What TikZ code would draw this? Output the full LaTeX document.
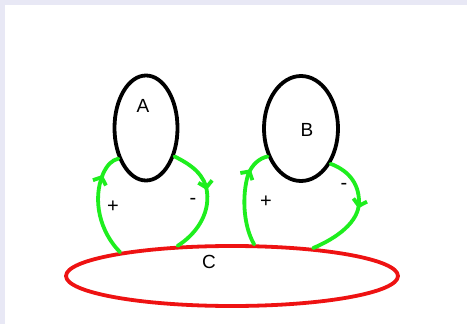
\documentclass[tikz,border=0pt]{standalone}
\usepackage{fontspec}
\setmainfont{Liberation Sans}
\usetikzlibrary{shapes.geometric,arrows.meta,decorations.markings}
\definecolor{lav}{RGB}{232,232,245}
\definecolor{loopgreen}{RGB}{30,238,30}
\definecolor{cred}{RGB}{238,18,18}
\tikzset{
  blob/.style={ellipse, draw=black, line width=3.8pt, inner sep=0pt},
  base/.style={ellipse, draw=cred, line width=3.8pt, inner sep=0pt},
  lbl/.style={font=\fontsize{19}{21}\selectfont, inner sep=0pt},
  sgn/.style={font=\fontsize{20}{22}\selectfont, inner sep=0pt},
  fb/.style={draw=loopgreen, line width=3.8pt, line cap=round, postaction={decorate}},
  tipat/.style={decoration={markings, mark=at position #1 with {\arrow[line width=3.8pt, loopgreen]{Straight Barb[length=6pt,width=14pt]}}}}
}
\begin{document}
\begin{tikzpicture}[x=1pt,y=-1pt]
\useasboundingbox (0,0) rectangle (467,324);
\fill[lav] (0,0) rectangle (467,324);
\fill[white] (5,5) rectangle (467,324);

\node[blob, minimum width=63pt, minimum height=105pt] (A) at (146,128) {};
\node[blob, minimum width=74pt, minimum height=105pt] (B) at (301,128.5) {};
\node[base, minimum width=332pt, minimum height=60pt] (C) at (232,276) {};

\node[lbl] (la) at (143,106) {A};
\node[lbl] (lb) at (307,130) {B};
\node[lbl] (lc) at (209,262) {C};

\draw[fb, tipat=0.78] (C.168) .. controls (100,232) and (92,200) .. (103,174) .. controls (107,165) and (112,160) .. (A.228);
\draw[fb, tipat=0.42] (A.315) .. controls (192,165) and (205,175) .. (207,192) .. controls (210,215) and (195,235) .. (C.151);
\draw[fb, tipat=0.78] (C.55) .. controls (243,225) and (242,195) .. (248,175) .. controls (252,164) and (260,158) .. (B.220);
\draw[fb, tipat=0.48] (B.310) .. controls (347,170) and (359,182) .. (359,202) .. controls (359,222) and (337,238) .. (C.19);

\node[sgn] (pa) at (113,207) {+};
\node[sgn] (ma) at (193,201) {-};
\node[sgn] (pb) at (266,202) {+};
\node[sgn] (mb) at (344,186) {-};
\end{tikzpicture}
\end{document}
